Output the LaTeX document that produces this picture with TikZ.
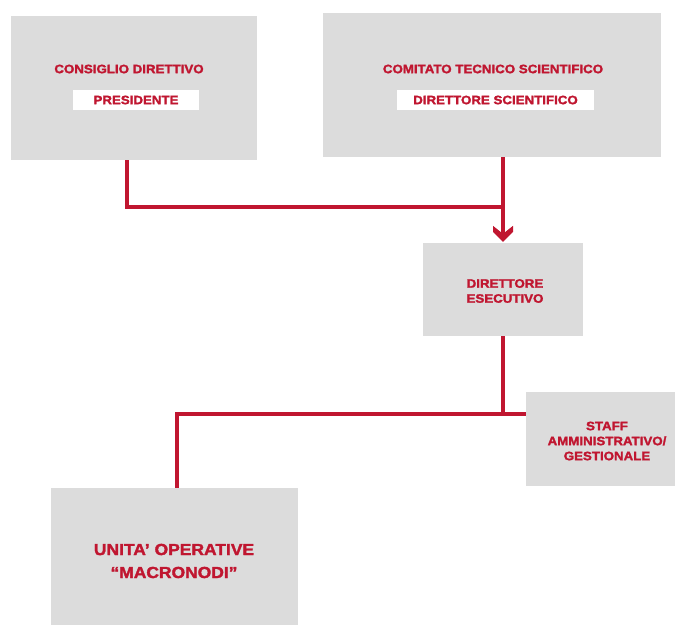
\documentclass[tikz,border=0pt]{standalone}
\usepackage{fontspec}
\setmainfont{Liberation Sans}[BoldFeatures={FakeBold=2, FakeStretch=1.09}]
\definecolor{orgred}{RGB}{192,22,48}
\definecolor{orggray}{RGB}{220,220,220}
\tikzset{
  orgbox/.style={fill=orggray, draw=none, inner sep=0pt, anchor=center},
  orglabel/.style={text=orgred, font=\bfseries\fontsize{12.2}{15}\selectfont, align=center, inner sep=0pt},
  rolebox/.style={fill=white, text=orgred, font=\bfseries\fontsize{12.2}{14}\selectfont, inner sep=0pt},
  link/.style={draw=orgred, line width=4pt},
  chevron/.style={fill=orgred, draw=none},
}
\begin{document}
\begin{tikzpicture}[x=1pt, y=-1pt]
  \useasboundingbox (0,0) rectangle (675,625);

  % boxes
  \node[orgbox, minimum width=246pt, minimum height=144pt] (cd) at (134,88) {};
  \node[orgbox, minimum width=338pt, minimum height=144pt] (cts) at (492,85) {};
  \node[orgbox, minimum width=160pt, minimum height=93pt] (de) at (503,289.5) {};
  \node[orgbox, minimum width=149pt, minimum height=94pt] (staff) at (600.5,439) {};
  \node[orgbox, minimum width=247pt, minimum height=137pt] (uo) at (174.5,556.5) {};

  % texts
  \node[orglabel] (cdt) at (129,69) {CONSIGLIO DIRETTIVO};
  \node[rolebox, minimum width=126pt, minimum height=20pt] (pres) at (136,100) {PRESIDENTE};
  \node[orglabel] (ctst) at (493,69) {COMITATO TECNICO SCIENTIFICO};
  \node[rolebox, minimum width=197pt, minimum height=20pt] (ds) at (495.5,100) {DIRETTORE SCIENTIFICO};
  \node[orglabel] (det) at (505,291) {DIRETTORE\\ESECUTIVO};
  \node[orglabel] (stafft) at (607,441) {STAFF\\AMMINISTRATIVO/\\GESTIONALE};
  \node[orglabel, font=\bfseries\fontsize{16}{23}\selectfont] (uot) at (174,561) {UNITA’ OPERATIVE\\“MACRONODI”};

  % junctions
  \coordinate (j1) at (503,207);
  \coordinate (j2) at (503,414);

  % connectors
  \draw[link] ([xshift=-7pt]cd.south) |- (j1);
  \draw[link] (cts.south -| de.north) -- ([yshift=6pt]de.north);
  % thick chevron arrowhead resting on the top edge of the executive box
  \fill[chevron] ([shift={(-10pt,17pt)}]de.north) -- ([shift={(0pt,9pt)}]de.north)
    -- ([shift={(10pt,17pt)}]de.north) -- ([shift={(10pt,11pt)}]de.north)
    -- ([shift={(0pt,1pt)}]de.north) -- ([shift={(-10pt,11pt)}]de.north) -- cycle;
  \draw[link] (de.south) -- (j2);
  \draw[link] ([xshift=2.5pt]uo.north) |- (j2) -- (j2 -| staff.west);
\end{tikzpicture}
\end{document}
